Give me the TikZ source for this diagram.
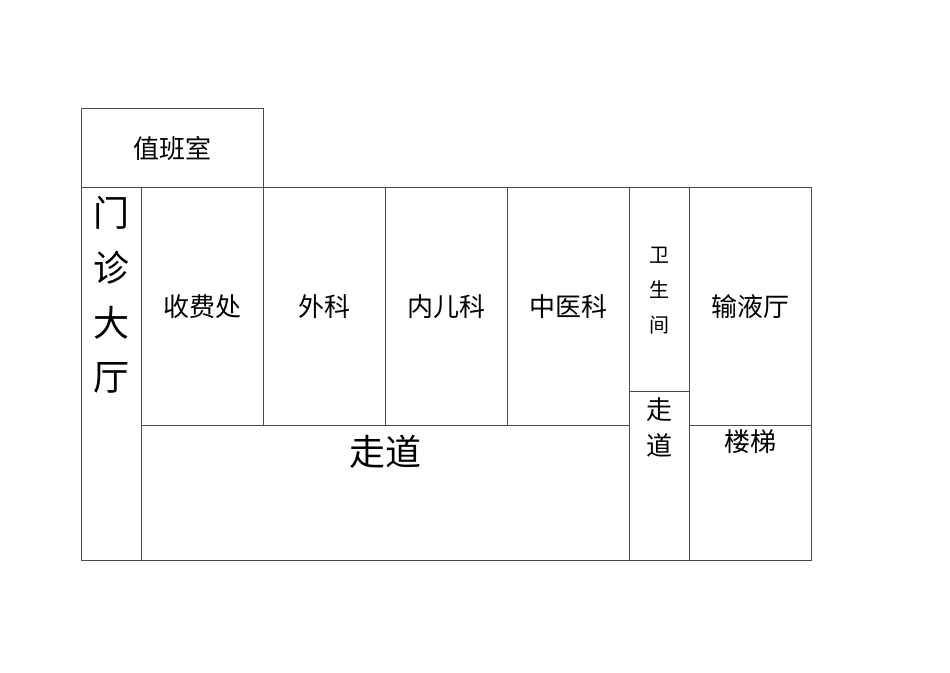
\documentclass[tikz,border=0pt]{standalone}
\usepackage{fontspec}
\newfontfamily\cjk{Noto Sans CJK SC}
\begin{document}
\begin{tikzpicture}[x=1pt,y=-1pt,wall/.style={draw=black!70,line width=0.8pt},
lab/.style={font=\cjk\fontsize{26}{28}\selectfont,inner sep=0pt}]
\useasboundingbox (0,0) rectangle (950,672);
\draw[wall] (81,187) -- (81,108) -- (263,108) -- (263,187);
\draw[wall] (81,187) rectangle (811,560);
\foreach \x in {141,629,689} \draw[wall] (\x,187) -- (\x,560);
\foreach \x in {263,385,507} \draw[wall] (\x,187) -- (\x,425);
\draw[wall] (141,425) -- (629,425);
\draw[wall] (629,391) -- (689,391);
\draw[wall] (689,425) -- (811,425);
\node[lab] (zbs) at (172,148) {值班室};
\node[lab,font=\cjk\fontsize{36}{38}\selectfont] (mz1) at (111,213) {门};
\node[lab,font=\cjk\fontsize{36}{38}\selectfont] (mz2) at (111,268) {诊};
\node[lab,font=\cjk\fontsize{36}{38}\selectfont] (mz3) at (111,323) {大};
\node[lab,font=\cjk\fontsize{36}{38}\selectfont] (mz4) at (111,378) {厅};
\node[lab] (sfc) at (202,307) {收费处};
\node[lab] (wk) at (324,307) {外科};
\node[lab] (nek) at (446,307) {内儿科};
\node[lab] (zyk) at (568,307) {中医科};
\node[lab] (syt) at (750,307) {输液厅};
\node[lab,font=\cjk\fontsize{20}{22}\selectfont] (w1) at (659,255) {卫};
\node[lab,font=\cjk\fontsize{20}{22}\selectfont] (w2) at (659,290) {生};
\node[lab,font=\cjk\fontsize{20}{22}\selectfont] (w3) at (659,325) {间};
\node[lab,font=\cjk\fontsize{36}{38}\selectfont] (zd) at (385,452) {走道};
\node[lab] (zd1) at (659,410) {走};
\node[lab] (zd2) at (659,445) {道};
\node[lab] (lt) at (750,442) {楼梯};
\end{tikzpicture}
\end{document}
